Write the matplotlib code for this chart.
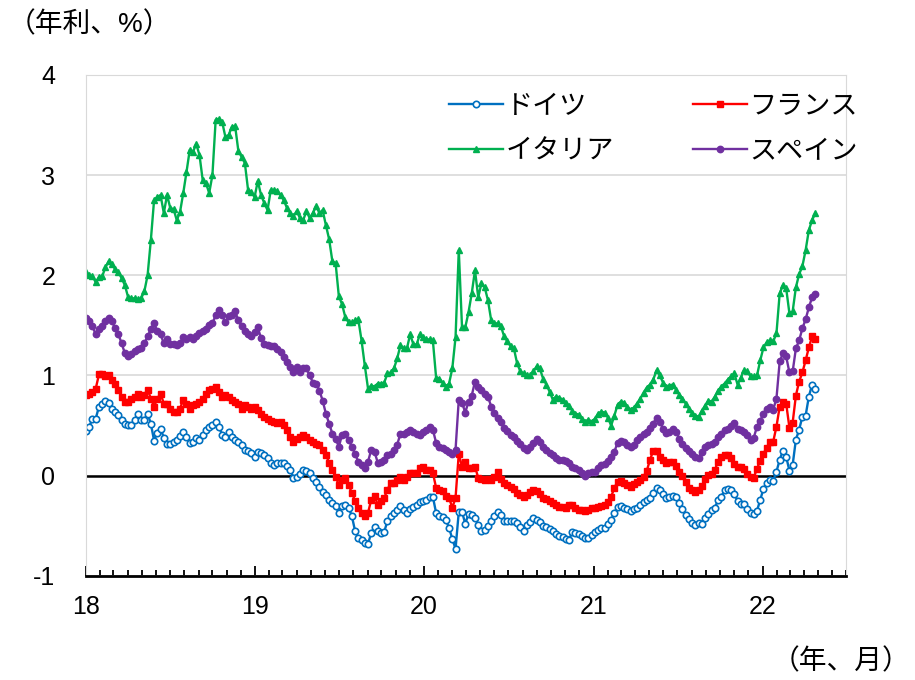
import matplotlib
matplotlib.use('Agg')
import matplotlib.pyplot as plt
import matplotlib.dates as mdates
import pandas as pd

plt.rcParams['font.family'] = ['Liberation Sans', 'Noto Sans CJK JP']
plt.rcParams['axes.unicode_minus'] = False

# weekly 10y government bond yields, from the first week of 2018
start_date = '2018-01-01'
labels = ['ドイツ', 'フランス', 'イタリア', 'スペイン']

germany = [0.45, 0.49, 0.57, 0.57, 0.69, 0.72, 0.75, 0.73, 0.67, 0.64,
           0.61, 0.56, 0.52, 0.51, 0.51, 0.56, 0.62, 0.56, 0.56, 0.62,
           0.52, 0.35, 0.43, 0.47, 0.38, 0.32, 0.32, 0.34, 0.36, 0.40,
           0.44, 0.39, 0.33, 0.34, 0.38, 0.36, 0.41, 0.46, 0.49, 0.51,
           0.54, 0.49, 0.41, 0.39, 0.44, 0.39, 0.36, 0.34, 0.31, 0.26,
           0.25, 0.23, 0.19, 0.24, 0.23, 0.21, 0.18, 0.13, 0.11, 0.13,
           0.13, 0.13, 0.10, 0.06, -0.02, -0.01, 0.02, 0.06, 0.05, 0.03,
           -0.02, -0.06, -0.11, -0.16, -0.19, -0.24, -0.27, -0.30, -0.37, -0.30,
           -0.29, -0.32, -0.40, -0.55, -0.62, -0.64, -0.67, -0.68, -0.57, -0.51,
           -0.55, -0.57, -0.56, -0.45, -0.40, -0.37, -0.34, -0.30, -0.34, -0.37,
           -0.33, -0.31, -0.29, -0.26, -0.25, -0.24, -0.21, -0.21, -0.37, -0.40,
           -0.41, -0.44, -0.52, -0.63, -0.73, -0.36, -0.36, -0.48, -0.38, -0.39,
           -0.42, -0.49, -0.55, -0.54, -0.50, -0.45, -0.40, -0.36, -0.39, -0.45,
           -0.45, -0.45, -0.45, -0.47, -0.51, -0.55, -0.49, -0.46, -0.42, -0.44,
           -0.46, -0.50, -0.51, -0.53, -0.55, -0.58, -0.60, -0.61, -0.63, -0.64,
           -0.56, -0.57, -0.58, -0.60, -0.62, -0.62, -0.59, -0.56, -0.54, -0.52,
           -0.52, -0.48, -0.44, -0.37, -0.31, -0.30,
           -0.32, -0.33, -0.35, -0.33, -0.32, -0.29, -0.26, -0.24, -0.22, -0.17,
           -0.12, -0.14, -0.18, -0.22, -0.21, -0.20, -0.21, -0.27, -0.33, -0.39,
           -0.43, -0.47, -0.49, -0.47, -0.48, -0.42, -0.38, -0.34, -0.32, -0.24,
           -0.21, -0.14, -0.13, -0.14, -0.18, -0.25, -0.28, -0.28, -0.33, -0.37,
           -0.38, -0.35, -0.24, -0.13, -0.07, -0.04, -0.05, 0.04, 0.16, 0.25,
           0.19, 0.05, 0.11, 0.36, 0.46, 0.59, 0.60, 0.79, 0.91, 0.87]

france = [0.81, 0.82, 0.84, 0.87, 1.01, 1.01, 0.99, 1.00, 0.96, 0.92,
          0.86, 0.79, 0.74, 0.74, 0.77, 0.79, 0.82, 0.79, 0.81, 0.86,
          0.77, 0.69, 0.77, 0.82, 0.72, 0.72, 0.67, 0.64, 0.64, 0.67,
          0.76, 0.72, 0.67, 0.71, 0.72, 0.74, 0.77, 0.82, 0.86, 0.87,
          0.89, 0.84, 0.79, 0.81, 0.79, 0.76, 0.74, 0.72, 0.67, 0.71,
          0.69, 0.67, 0.69, 0.66, 0.62, 0.59, 0.57, 0.55, 0.54, 0.53,
          0.54, 0.51, 0.46, 0.39, 0.34, 0.37, 0.39, 0.41, 0.39, 0.36,
          0.34, 0.32, 0.31, 0.26, 0.21, 0.13, 0.06, -0.01, -0.09, -0.04,
          -0.02, -0.09, -0.17, -0.25, -0.32, -0.37, -0.40, -0.37, -0.24, -0.20,
          -0.29, -0.25, -0.22, -0.14, -0.07, -0.07, -0.04, -0.01, -0.04, -0.01,
          0.03, 0.03, 0.03, 0.08, 0.09, 0.06, 0.06, 0.03, -0.12, -0.14,
          -0.15, -0.20, -0.22, -0.32, -0.22, 0.22, 0.09, 0.14, 0.08, 0.08,
          0.09, -0.02, -0.03, -0.04, -0.03, -0.04, -0.01, 0.04, -0.03, -0.07,
          -0.09, -0.11, -0.13, -0.17, -0.19, -0.21, -0.19, -0.16, -0.14, -0.15,
          -0.18, -0.22, -0.23, -0.25, -0.27, -0.29, -0.31, -0.31, -0.32, -0.29,
          -0.29, -0.32, -0.34, -0.34, -0.35, -0.34, -0.32, -0.32, -0.31, -0.30,
          -0.29, -0.26, -0.21, -0.12, -0.06, -0.05,
          -0.07, -0.09, -0.11, -0.08, -0.06, -0.04, -0.01, 0.05, 0.16, 0.25,
          0.25, 0.19, 0.16, 0.13, 0.14, 0.14, 0.10, 0.04, 0.00, -0.06,
          -0.12, -0.14, -0.16, -0.14, -0.10, -0.03, 0.01, 0.02, 0.06, 0.14,
          0.19, 0.21, 0.21, 0.18, 0.12, 0.09, 0.09, 0.07, 0.02, -0.01,
          -0.02, 0.07, 0.15, 0.22, 0.28, 0.34, 0.34, 0.49, 0.69, 0.74,
          0.72, 0.48, 0.53, 0.80, 0.94, 1.03, 1.15, 1.28, 1.39, 1.36]

italy = [2.03, 2.00, 1.99, 1.93, 1.98, 1.99, 2.08, 2.14, 2.11, 2.06,
         2.03, 1.97, 1.90, 1.78, 1.77, 1.77, 1.76, 1.77, 1.84, 2.00,
         2.35, 2.75, 2.78, 2.80, 2.62, 2.80, 2.67, 2.66, 2.55, 2.63,
         2.82, 3.03, 3.25, 3.23, 3.31, 3.20, 2.95, 2.92, 2.82, 3.00,
         3.55, 3.56, 3.53, 3.38, 3.40, 3.48, 3.49, 3.24, 3.18, 3.12,
         2.85, 2.83, 2.78, 2.94, 2.80, 2.72, 2.65, 2.85, 2.85, 2.84,
         2.80, 2.75, 2.67, 2.62, 2.59, 2.64, 2.57, 2.55, 2.64, 2.57,
         2.62, 2.69, 2.62, 2.65, 2.50, 2.36, 2.14, 2.12, 1.79, 1.71,
         1.58, 1.53, 1.53, 1.55, 1.56, 1.35, 1.10, 0.87, 0.90, 0.89,
         0.92, 0.92, 0.93, 1.02, 1.03, 1.07, 1.17, 1.30, 1.27, 1.27,
         1.41, 1.31, 1.31, 1.41, 1.38, 1.36, 1.36, 1.35, 0.98, 0.97,
         0.93, 0.89, 0.92, 1.07, 1.38, 2.25, 1.48, 1.48, 1.63, 1.82,
         2.05, 1.78, 1.92, 1.88, 1.75, 1.55, 1.52, 1.52, 1.49, 1.39,
         1.34, 1.29, 1.27, 1.12, 1.04, 1.02, 1.00, 1.00, 1.04, 1.09,
         1.07, 0.97, 0.91, 0.84, 0.76, 0.79, 0.78, 0.76, 0.73, 0.70,
         0.65, 0.62, 0.61, 0.57, 0.54, 0.56, 0.54, 0.57, 0.62, 0.64,
         0.63, 0.58, 0.50, 0.60, 0.71, 0.74,
         0.73, 0.69, 0.66, 0.68, 0.72, 0.77, 0.83, 0.88, 0.91, 0.96,
         1.05, 1.00, 0.93, 0.89, 0.90, 0.91, 0.86, 0.81, 0.77, 0.72,
         0.67, 0.63, 0.60, 0.59, 0.65, 0.70, 0.75, 0.74, 0.79, 0.85,
         0.89, 0.92, 0.96, 0.99, 1.02, 0.91, 0.98, 1.05, 1.04, 0.99,
         0.99, 1.00, 1.15, 1.28, 1.33, 1.35, 1.34, 1.42, 1.82, 1.90,
         1.87, 1.62, 1.64, 1.88, 2.01, 2.09, 2.25, 2.45, 2.55, 2.62]

spain = [1.57, 1.54, 1.49, 1.41, 1.46, 1.49, 1.54, 1.57, 1.54, 1.47,
         1.41, 1.32, 1.22, 1.19, 1.21, 1.24, 1.26, 1.27, 1.32, 1.39,
         1.46, 1.52, 1.44, 1.41, 1.32, 1.36, 1.31, 1.31, 1.30, 1.32,
         1.38, 1.36, 1.38, 1.36, 1.39, 1.42, 1.44, 1.46, 1.50, 1.52,
         1.60, 1.65, 1.60, 1.53, 1.59, 1.60, 1.64, 1.55, 1.49, 1.44,
         1.41, 1.39, 1.43, 1.48, 1.37, 1.31, 1.30, 1.29, 1.29, 1.26,
         1.23, 1.18, 1.13, 1.08, 1.03, 1.08, 1.03, 1.07, 1.07, 1.00,
         0.93, 0.92, 0.85, 0.75, 0.62, 0.52, 0.42, 0.37, 0.29, 0.41,
         0.42, 0.36, 0.29, 0.22, 0.14, 0.11, 0.08, 0.14, 0.26, 0.24,
         0.13, 0.14, 0.16, 0.21, 0.22, 0.26, 0.31, 0.42, 0.42, 0.44,
         0.46, 0.44, 0.42, 0.41, 0.44, 0.46, 0.49, 0.46, 0.33, 0.29,
         0.28, 0.26, 0.24, 0.22, 0.26, 0.76, 0.73, 0.63, 0.74, 0.80,
         0.94, 0.89, 0.86, 0.82, 0.79, 0.69, 0.63, 0.58, 0.54, 0.48,
         0.45, 0.41, 0.39, 0.35, 0.32, 0.28, 0.26, 0.29, 0.33, 0.37,
         0.34, 0.29, 0.26, 0.23, 0.21, 0.18, 0.16, 0.16, 0.15, 0.13,
         0.09, 0.08, 0.06, 0.03, 0.00, 0.03, 0.04, 0.04, 0.08, 0.11,
         0.12, 0.15, 0.19, 0.24, 0.33, 0.35,
         0.34, 0.31, 0.29, 0.31, 0.36, 0.39, 0.42, 0.44, 0.48, 0.52,
         0.58, 0.54, 0.47, 0.43, 0.44, 0.47, 0.44, 0.37, 0.32, 0.28,
         0.25, 0.22, 0.19, 0.18, 0.24, 0.29, 0.31, 0.32, 0.34, 0.39,
         0.42, 0.46, 0.47, 0.50, 0.53, 0.47, 0.46, 0.44, 0.41, 0.36,
         0.38, 0.49, 0.55, 0.62, 0.67, 0.69, 0.66, 0.77, 1.14, 1.22,
         1.19, 1.03, 1.04, 1.27, 1.35, 1.47, 1.56, 1.68, 1.78, 1.81]

dates = pd.date_range(start_date, periods=len(germany), freq='W-MON')

fig = plt.figure(figsize=(9.15, 6.8), dpi=100)
ax = fig.add_axes([0.094, 0.153, 0.831, 0.737])

#plot each country, same look as the original excel chart
de, = ax.plot(dates, germany, color='#0070C0', lw=1.7, marker='o', ms=4.6,
              mfc='white', mec='#0070C0', mew=1.2)
fr, = ax.plot(dates, france, color='#FF0000', lw=1.7, marker='s', ms=5,
              mfc='#FF0000', mec='#FF0000')
it, = ax.plot(dates, italy, color='#00B050', lw=1.7, marker='^', ms=5,
              mfc='#00B050', mec='#00B050')
es, = ax.plot(dates, spain, color='#7030A0', lw=1.7, marker='o', ms=4.6,
              mfc='#7030A0', mec='#7030A0')

ax.axhline(0, color='black', lw=1.8, zorder=1)

ax.set_ylim(-1, 4)
ax.set_yticks([-1, 0, 1, 2, 3, 4])
ax.set_xlim(pd.Timestamp('2018-01-01'), pd.Timestamp('2022-07-01'))
ax.yaxis.grid(True, color='#d9d9d9', lw=1.2)
ax.set_axisbelow(True)

for side in ['left', 'top', 'right']:
    ax.spines[side].set_color('#d9d9d9')
ax.spines['bottom'].set_color('black')
ax.spines['bottom'].set_linewidth(2)

ax.xaxis.set_major_locator(mdates.YearLocator())
ax.xaxis.set_minor_locator(mdates.MonthLocator())
ax.xaxis.set_major_formatter(mdates.DateFormatter('%y'))
ax.tick_params(axis='x', which='major', direction='in', length=7, width=1.3,
               pad=14, labelsize=18)
ax.tick_params(axis='x', which='minor', direction='in', length=4.5, width=1.3)
ax.tick_params(axis='y', length=0, pad=22, labelsize=18)

ax.legend([de, it, fr, es], [labels[0], labels[2], labels[1], labels[3]],
          ncol=2, frameon=False, fontsize=19.5, handlelength=2.0,
          handletextpad=0.1, columnspacing=2.9, labelspacing=0.7,
          loc='upper left', bbox_to_anchor=(0.452, 1.0), borderaxespad=0.3)

fig.text(0.008, 1 - 25 / 680, '（年利、%）', fontsize=20, va='center', ha='left')
fig.text(0.995, 1 - 662 / 680, '（年、月）', fontsize=20, va='center', ha='right')

fig.savefig('out.png', dpi=100)
